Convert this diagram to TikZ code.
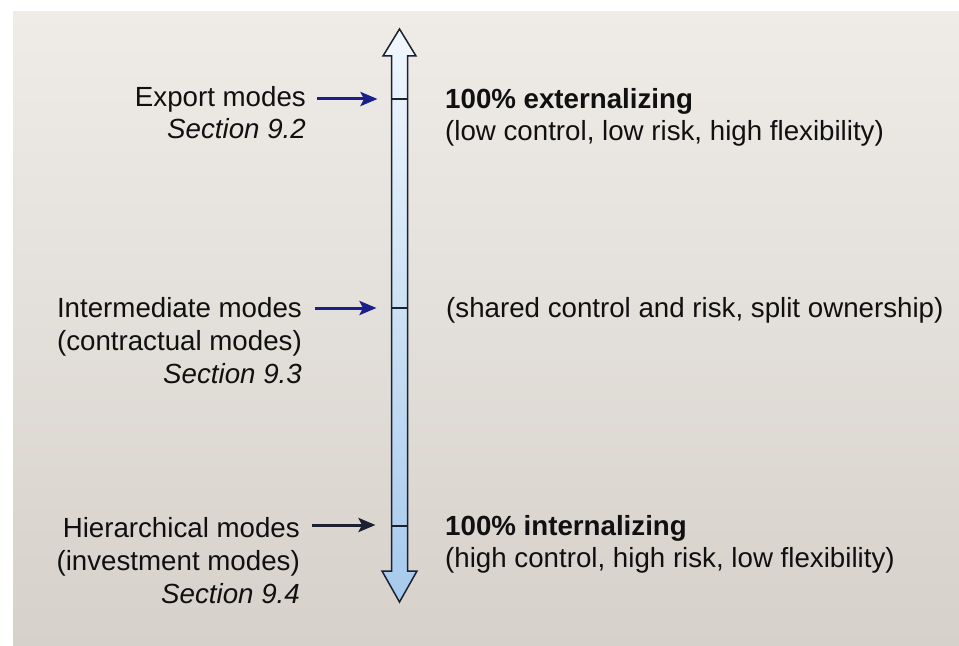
\documentclass[tikz,border=0pt]{standalone}
\usepackage{fontspec}
\setmainfont{Liberation Sans}
\usetikzlibrary{arrows.meta}
\definecolor{pagetop}{HTML}{EFECE8}
\definecolor{pagemid}{HTML}{E4DFDA}
\definecolor{pagebot}{HTML}{D6D1CA}
\definecolor{bartop}{HTML}{F1F7FD}
\definecolor{barmid}{HTML}{D3E5F7}
\definecolor{barbot}{HTML}{A6CAEC}
\definecolor{outl}{HTML}{1C2030}
\definecolor{navy}{HTML}{1A1F8A}
\definecolor{ink}{HTML}{101010}
\begin{document}
\begin{tikzpicture}[x=1bp,y=-1bp,
  lbl/.style={font=\fontsize{27.8}{33}\selectfont, text=ink, inner sep=0pt, align=right, anchor=base east},
  rlbl/.style={font=\fontsize{27.8}{32.5}\selectfont, text=ink, inner sep=0pt, align=left, anchor=base west},
  ptr/.style={line width=3bp, -{Stealth[length=17bp,width=14bp,inset=3.5bp]}},
  tick/.style={draw=outl, line width=1.3bp}]
\useasboundingbox (0,0) rectangle (959,646);
\fill[white] (0,0) rectangle (959,646);
\shade[top color=pagetop, middle color=pagemid, bottom color=pagebot] (13,12) rectangle (959,646);
% double block arrow
\shade[top color=bartop, middle color=barmid, bottom color=barbot]
  (399.5,29) -- (416,56) -- (407.5,56) -- (407.5,571) -- (417,571) -- (399.5,602)
  -- (382,571) -- (391.5,571) -- (391.5,56) -- (383,56) -- cycle;
\draw[outl, line width=1.5bp, line join=miter]
  (399.5,29) -- (416,56) -- (407.5,56) -- (407.5,571) -- (417,571) -- (399.5,602)
  -- (382,571) -- (391.5,571) -- (391.5,56) -- (383,56) -- cycle;
% ticks
\coordinate (m1) at (399.5,99);
\coordinate (m2) at (399.5,308);
\coordinate (m3) at (399.5,526);
\draw[tick] (391.5,99) -- (407.5,99);
\draw[tick] (391.5,308) -- (407.5,308);
\draw[tick] (391.5,526) -- (407.5,526);
% left labels (base = last line)
\node[lbl] (exp) at (306,139) {Export modes\\ \textit{Section 9.2}};
\node[lbl] (int) at (302,383) {Intermediate modes\\(contractual modes)\\ \textit{Section 9.3}};
\node[lbl] (hie) at (300,603) {Hierarchical modes\\(investment modes)\\ \textit{Section 9.4}};
% right labels
\node[rlbl] (ext) at (445,140.5) {\textbf{100\% externalizing}\\(low control, low risk, high flexibility)};
\node[rlbl] (shr) at (446,317) {(shared control and risk, split ownership)};
\node[rlbl] (inn) at (445,567.5) {\textbf{100\% internalizing}\\(high control, high risk, low flexibility)};
% pointers
\coordinate (s1) at (317,99);
\coordinate (s2) at (315,308);
\coordinate (s3) at (312,525);
\draw[ptr, navy, shorten >=22bp] (s1) -- (m1);
\draw[ptr, navy, shorten >=23bp] (s2) -- (m2);
\draw[ptr, outl, shorten >=24bp] (s3) -- (m3 |- s3);
\end{tikzpicture}
\end{document}
